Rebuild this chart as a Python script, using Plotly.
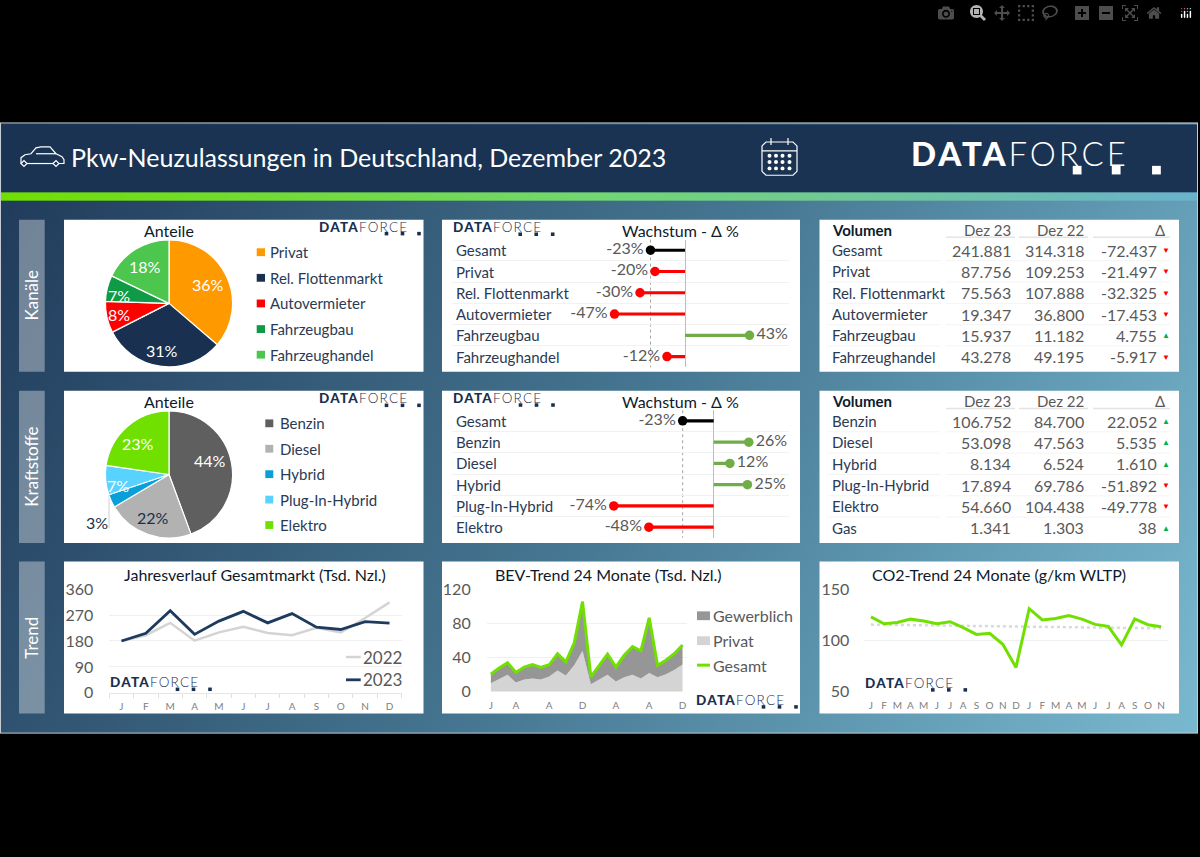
import urllib.parse
import plotly.graph_objects as go

W, H = 1200, 857
FONT = "Lato"
NAVY = "#1a2f4d"
GREY = "#595959"

# --- data ---
channel_labels = ["Privat", "Rel. Flottenmarkt", "Autovermieter", "Fahrzeugbau", "Fahrzeughandel"]
channel_dez23 = [87756, 75563, 19347, 15937, 43278]
channel_colors = ["#ff9900", "#1a3050", "#ff0000", "#0f9a45", "#4cc64c"]
channel_pct = ["36%", "31%", "8%", "7%", "18%"]

fuel_labels = ["Benzin", "Diesel", "Hybrid", "Plug-In-Hybrid", "Elektro"]
fuel_dez23 = [106752, 53098, 8134, 17894, 54660]
fuel_colors = ["#5f5f5f", "#b2b2b2", "#0a9fd8", "#5ad2ff", "#70e000"]
fuel_pct = ["44%", "22%", "3%", "7%", "23%"]

growth1_labels = ["Gesamt"] + channel_labels
growth1_values = [-23, -20, -30, -47, 43, -12]
growth2_labels = ["Gesamt", "Benzin", "Diesel", "Hybrid", "Plug-In-Hybrid", "Elektro"]
growth2_values = [-23, 26, 12, 25, -74, -48]

table1_rows = ["Gesamt"] + channel_labels
table1_d23 = ["241.881", "87.756", "75.563", "19.347", "15.937", "43.278"]
table1_d22 = ["314.318", "109.253", "107.888", "36.800", "11.182", "49.195"]
table1_delta = ["-72.437", "-21.497", "-32.325", "-17.453", "4.755", "-5.917"]

table2_rows = ["Benzin", "Diesel", "Hybrid", "Plug-In-Hybrid", "Elektro", "Gas"]
table2_d23 = ["106.752", "53.098", "8.134", "17.894", "54.660", "1.341"]
table2_d22 = ["84.700", "47.563", "6.524", "69.786", "104.438", "1.303"]
table2_delta = ["22.052", "5.535", "1.610", "-51.892", "-49.778", "38"]

months12 = ["J", "F", "M", "A", "M", "J", "J", "A", "S", "O", "N", "D"]
market_2022 = [180, 200, 243, 181, 210, 229, 208, 200, 226, 210, 260, 314]
market_2023 = [180, 207, 285, 203, 249, 283, 243, 275, 228, 220, 247, 242]

bev_ticks = [0, 3, 7, 11, 15, 19, 23]
bev_ticktext = ["J", "A", "A", "D", "A", "A", "D"]
bev_privat = [10, 15, 20, 11, 14.5, 15.6, 14.5, 18, 25, 19, 31, 48,
              9, 14.5, 20, 12, 17, 20, 15.5, 22, 17, 20.5, 25.5, 32]
bev_gewerblich = [10.6, 13, 14, 11.5, 14.5, 16.4, 14.1, 13.6, 19.6, 16, 26, 57.5,
                  8.5, 16.5, 24, 17, 25.7, 33, 32.5, 64.5, 14, 16.5, 19.1, 22.7]
bev_gesamt = [20.6, 28, 34, 22.5, 29, 32, 28.6, 31.6, 44.6, 35, 57, 105.5,
              17.5, 31, 44, 29, 42.7, 53, 48, 86.5, 31, 37, 44.6, 54.7]

co2_months = ["J", "F", "M", "A", "M", "J", "J", "A", "S", "O", "N", "D",
              "J", "F", "M", "A", "M", "J", "J", "A", "S", "O", "N"]
co2_values = [123, 116.3, 117.6, 120.8, 118.9, 116.3, 118.3, 112.5, 105.9, 107, 96.3, 73.8,
              131, 120, 121.4, 124.3, 120.8, 115.7, 113.8, 95.7, 121, 115.4, 113.5]
co2_trend = [115.5, 111.8]


def fx(x):
    return x / W


def fy(y):
    return 1 - y / H


annotations = []
shapes = []


def label(x, y, text, size=15, color=NAVY, anchor="left", angle=0, weight=None):
    font = dict(family=FONT, size=size, color=color)
    if weight:
        font["weight"] = weight
    annotations.append(dict(xref="paper", yref="paper", x=fx(x), y=fy(y), text=text, showarrow=False,
                            xanchor=anchor, yanchor="middle", font=font, textangle=angle, borderpad=0))


def rect(x0, y0, x1, y1, color):
    shapes.append(dict(type="rect", xref="paper", yref="paper", x0=fx(x0), x1=fx(x1), y0=fy(y0), y1=fy(y1),
                       fillcolor=color, line_width=0, layer="below"))


def line(x0, y0, x1, y1, color, width=1, dash="solid"):
    shapes.append(dict(type="line", xref="paper", yref="paper", x0=fx(x0), x1=fx(x1), y0=fy(y0), y1=fy(y1),
                       line=dict(color=color, width=width, dash=dash), layer="below"))


def icon(points, close=False):
    # stroke-only path in page pixels
    d = "M" + " L".join(f"{fx(x):.5f},{fy(y):.5f}" for x, y in points) + (" Z" if close else "")
    shapes.append(dict(type="path", xref="paper", yref="paper", path=d, line=dict(color="white", width=1.2),
                       layer="above"))


def logo(left, cy, scale=1.0, color=NAVY):
    s = 13.5 * scale
    spacing = 1.2 * scale
    annotations.append(dict(
        xref="paper", yref="paper", x=fx(left), y=fy(cy), xanchor="left", yanchor="middle", showarrow=False,
        borderpad=0, font=dict(family=FONT, size=s, color=color),
        text=f'<span style="letter-spacing:{spacing}px;font-weight:900">DATA</span>'
             f'<span style="letter-spacing:{spacing}px;font-weight:300">FORCE</span>'))
    for off in (68.5, 84.5, 101):
        x = left + off * scale
        y = cy + 7 * scale
        half = 1.8 * scale
        rect(x - half, y - half, x + half, y + half, color if scale == 1 else "white")


# --- background, header and gradient bar ---
svg = f"""<svg xmlns='http://www.w3.org/2000/svg' width='{W}' height='{H}' viewBox='0 0 {W} {H}'>
<defs>
<linearGradient id='b' gradientUnits='userSpaceOnUse' x1='0' y1='115' x2='1200' y2='740'>
<stop offset='0' stop-color='#1f3858'/><stop offset='0.5' stop-color='#44748f'/><stop offset='1' stop-color='#79b9d0'/>
</linearGradient>
<linearGradient id='g' x1='0' x2='1' y1='0' y2='0'>
<stop offset='0' stop-color='#70e000'/><stop offset='0.5' stop-color='#72d772'/><stop offset='1' stop-color='#6bb2cc'/>
</linearGradient>
</defs>
<rect width='{W}' height='{H}' fill='black'/>
<rect x='0.5' y='115.5' width='1197' height='624' fill='url(#b)' stroke='#c4ccd2'/>
<rect x='2' y='117' width='1195' height='70' fill='#1a3352'/>
<rect x='1' y='186.5' width='1196' height='8.5' fill='url(#g)'/>
</svg>"""
images = [dict(source="data:image/svg+xml," + urllib.parse.quote(svg), xref="paper", yref="paper",
               x=0, y=1, sizex=1, sizey=1, sizing="stretch", layer="below", xanchor="left", yanchor="top")]

# cards and side rails
for y0, y1 in [(214.5, 370), (389.5, 545), (564, 719.5)]:
    for x0, x1 in [(64, 423.5), (442, 800), (819.5, 1179)]:
        rect(x0, y0, x1, y1, "white")
    rect(19, y0, 44.7, y1, "rgba(255,255,255,0.36)")
label(32, 292, "Kanäle", 17, "white", "center", -90)
label(32, 467, "Kraftstoffe", 17, "white", "center", -90)
label(32, 642, "Trend", 17, "white", "center", -90)

# header
label(70, 150, "Pkw-Neuzulassungen in Deutschland, Dezember 2023", 25, "white", weight=400)
logo(910, 146.7, 2.44, "white")
icon([(21, 157), (21, 151), (25, 148), (31, 147), (36, 141), (41, 140), (50, 140), (56, 147), (62, 150), (64, 153),
      (64, 157), (59, 157)])
icon([(27, 157), (53, 157)])
icon([(36, 147), (56, 147)])
for cx in (24, 56):
    icon([(cx - 3, 157), (cx, 154), (cx + 3, 157), (cx, 160)], close=True)
icon([(766, 135), (793, 135), (797, 139), (797, 165), (793, 169), (766, 169), (762, 165), (762, 139)], close=True)
icon([(762, 144), (797, 144)])
icon([(771, 131), (771, 138)])
icon([(788, 131), (788, 138)])
for row in (149, 155.5, 162):
    for col in (769.5, 776, 782.5, 789.5):
        shapes.append(dict(type="circle", xref="paper", yref="paper", x0=fx(col - 2), x1=fx(col + 2),
                           y0=fy(row - 2), y1=fy(row + 2), fillcolor="white", line_width=0, layer="above"))

traces = []


# --- pies ---
def add_pie(labels, values, colors, cy):
    traces.append(go.Pie(labels=labels, values=values, sort=False, direction="clockwise", rotation=0,
                         marker=dict(colors=colors, line=dict(color="white", width=1.2)),
                         textinfo="none", showlegend=False, hole=0,
                         domain=dict(x=[fx(169 - 65), fx(169 + 65)], y=[fy(cy + 65), fy(cy - 65)])))


add_pie(channel_labels, channel_dez23, channel_colors, 300)
add_pie(fuel_labels, fuel_dez23, fuel_colors, 475)

label(169, 225, "Anteile", 16, "#0d1a2a", "center")
label(169, 400, "Anteile", 16, "#0d1a2a", "center")

channel_pos = [(208, 280.7), (161.7, 348.3), (119, 311), (119.3, 292.3), (145, 262.7)]
for (x, y), t in zip(channel_pos, channel_pct):
    label(x, y, t, 16, "white", "center")
fuel_pos = [(210, 461), (152.7, 519.3), (96.7, 524), (117.7, 486.7), (138.3, 443.3)]
fuel_txt = ["white", NAVY, NAVY, "white", "white"]
for (x, y), t, c in zip(fuel_pos, fuel_pct, fuel_txt):
    label(x, y, t, 16, c, "center")
line(109, 496, 109, 530, "#d0d0d0")

for i, (name, color) in enumerate(zip(channel_labels, channel_colors)):
    y = 247.7 + i * 26.2
    rect(256.7, y - 4, 265, y + 4, color)
    label(269.3, y, name, 15, "#2a3a55")
for i, (name, color) in enumerate(zip(fuel_labels, fuel_colors)):
    y = 422.7 + i * 26
    rect(265.3, y - 4, 273.3, y + 4, color)
    label(278.7, y, name, 15, "#2a3a55")

logo(318, 221.7)
logo(318, 397.3)

axes = {}


# --- growth lollipops ---
def add_growth(idx, labels, values, zero, scale, top, title_y):
    xname, yname = f"x{idx}", f"y{idx}"
    colors = ["black" if n == "Gesamt" else ("#ff0000" if v < 0 else "#70ad47") for n, v in zip(labels, values)]
    traces.append(go.Bar(x=values, y=labels, orientation="h", width=0.15, marker=dict(color=colors, line_width=0),
                         xaxis=xname, yaxis=yname, showlegend=False))
    traces.append(go.Scatter(x=values, y=labels, mode="markers+text", xaxis=xname, yaxis=yname, showlegend=False,
                             marker=dict(size=9.5, color=colors), text=[f"{v}%" for v in values],
                             textposition=["middle left" if v < 0 else "middle right" for v in values],
                             textfont=dict(family=FONT, size=16, color=GREY)))
    left, right = 452, 789
    bottom = top + 21.75 * 6
    axes[f"xaxis{idx}"] = dict(domain=[fx(left), fx(right)], range=[(left - zero) / scale, (right - zero) / scale],
                               anchor=yname, showgrid=False, showticklabels=False, ticks="", zeroline=True,
                               zerolinecolor="#bdbdbd", zerolinewidth=1)
    axes[f"yaxis{idx}"] = dict(domain=[fy(bottom), fy(top)], anchor=xname, type="category",
                               categoryorder="array", categoryarray=labels, range=[5.5, -0.5],
                               tickson="boundaries", showticklabels=False, ticks="", showgrid=True,
                               gridcolor="#f2f2f2", gridwidth=1, zeroline=False, showline=False)
    total = zero + values[0] * scale
    line(total, top, total, bottom, "#a6a6a6", 1, "dot")
    for i, name in enumerate(labels):
        label(455, top + 10.9 + i * 21.75, name, 15, "#2a3a55")
    label(680.7, title_y, "Wachstum - Δ %", 16, "#0d1a2a", "center")


add_growth(1, growth1_labels, growth1_values, 685, 1.5, 234.8, 225)
add_growth(2, growth2_labels, growth2_values, 713.7, 1.35, 409.3, 400)
logo(451.7, 222.3)
logo(452, 397)


# --- tables ---
def add_table(rows, d23, d22, delta, head_y):
    label(831, head_y, "<b>Volumen</b>", 15, "#0d1a2a")
    label(1011.7, head_y, "Dez 23", 15, GREY, "right")
    label(1085, head_y, "Dez 22", 15, GREY, "right")
    label(1166, head_y, "Δ", 15, GREY, "right")
    for x0, x1 in [(946, 1015), (1019, 1088), (1093, 1170)]:
        line(x0, head_y + 7.5, x1, head_y + 7.5, "#e4e4e4", 1.5)
    for i in range(6):
        y = head_y + 20.5 + i * 21.8
        label(831, y, rows[i], 15, "#2a3a55")
        label(1011.7, y, d23[i], 16, GREY, "right")
        label(1085, y, d22[i], 16, GREY, "right")
        label(1158, y, delta[i], 16, GREY, "right")
        down = delta[i].startswith("-")
        label(1165.7, y, "▼" if down else "▲", 8, "#ff0000" if down else "#00b050", "center")
        if i < 5:
            for x0, x1 in [(828, 941), (946, 1170)]:
                line(x0, y + 10.9, x1, y + 10.9, "#f4f4f4")


add_table(table1_rows, table1_d23, table1_d22, table1_delta, 225)
add_table(table2_rows, table2_d23, table2_d22, table2_delta, 400)

# --- trends ---
tick_font = dict(family=FONT, size=16, color=GREY)
month_font = dict(family=FONT, size=10, color="#808080")

# market by month
x12 = list(range(12))
traces.append(go.Scatter(x=x12, y=market_2022, mode="lines", line=dict(color="#d4d4d4", width=2.5),
                         xaxis="x3", yaxis="y3", showlegend=False))
traces.append(go.Scatter(x=x12, y=market_2023, mode="lines", line=dict(color="#1f3a5f", width=2.8),
                         xaxis="x3", yaxis="y3", showlegend=False))
axes["xaxis3"] = dict(domain=[fx(109.3), fx(401.7)], range=[-0.5, 11.5], anchor="y3", tickvals=x12,
                      ticktext=months12, tickfont=month_font, ticks="", showgrid=False, zeroline=False,
                      showline=True, linecolor="#e6e6e6", ticklabelstandoff=4,
                      minor=dict(tickvals=[i - 0.5 for i in range(13)], ticks="outside", ticklen=4,
                                 tickcolor="#e0e0e0", showgrid=False))
axes["yaxis3"] = dict(domain=[fy(698.3), fy(592.3)], range=[0, 360], anchor="x3", tickvals=[0, 90, 180, 270, 360],
                      tickfont=tick_font, ticks="", gridcolor="#f0f0f0", zeroline=False, ticklabelstandoff=15)
label(255, 577.3, "Jahresverlauf Gesamtmarkt (Tsd. Nzl.)", 16, "#0d1a2a", "center")
line(346, 661.7, 360.7, 661.7, "#d4d4d4", 2.5)
line(346, 685, 360.7, 685, "#1f3a5f", 2.8)
label(362, 661.7, "2022", 17, GREY)
label(362, 685, "2023", 17, GREY)
logo(109, 687.7)

# BEV
x24 = list(range(24))
traces.append(go.Scatter(x=x24, y=bev_privat, stackgroup="bev", mode="none", fillcolor="#d4d4d4", name="Privat",
                         xaxis="x4", yaxis="y4", showlegend=False))
traces.append(go.Scatter(x=x24, y=bev_gewerblich, stackgroup="bev", mode="none", fillcolor="#969696",
                         name="Gewerblich", xaxis="x4", yaxis="y4", showlegend=False))
traces.append(go.Scatter(x=x24, y=bev_gesamt, mode="lines", line=dict(color="#70e000", width=3), name="Gesamt",
                         xaxis="x4", yaxis="y4", showlegend=False))
axes["xaxis4"] = dict(domain=[fx(486.7), fx(686.7)], range=[-0.5, 23.5], anchor="y4", tickvals=bev_ticks,
                      ticktext=bev_ticktext, tickfont=month_font, ticks="", showgrid=False, zeroline=False,
                      ticklabelstandoff=6)
axes["yaxis4"] = dict(domain=[fy(697.3), fy(592.3)], range=[0, 120], anchor="x4", tickvals=[0, 40, 80, 120],
                      tickfont=tick_font, ticks="", gridcolor="#f0f0f0", zeroline=False, ticklabelstandoff=15)
label(609, 577.3, "BEV-Trend 24 Monate (Tsd. Nzl.)", 16, "#0d1a2a", "center")
rect(697, 615, 710, 624, "#969696")
rect(697, 640.5, 710, 649.5, "#d4d4d4")
line(697, 670, 710, 670, "#70e000", 3)
label(711.7, 619.3, "Gewerblich", 16, GREY)
label(711.7, 645, "Privat", 16, GREY)
label(711.7, 670, "Gesamt", 16, GREY)
logo(695, 705.7)

# CO2
x23 = list(range(23))
traces.append(go.Scatter(x=[x23[0], x23[-1]], y=co2_trend, mode="lines", xaxis="x5", yaxis="y5", showlegend=False,
                         line=dict(color="#d9d9d9", width=2.5, dash="dot")))
traces.append(go.Scatter(x=x23, y=co2_values, mode="lines", line=dict(color="#70e000", width=3),
                         xaxis="x5", yaxis="y5", showlegend=False))
axes["xaxis5"] = dict(domain=[fx(864.3), fx(1167.7)], range=[-0.5, 22.5], anchor="y5", tickvals=x23,
                      ticktext=co2_months, tickfont=month_font, ticks="", showgrid=False, zeroline=False,
                      ticklabelstandoff=6)
axes["yaxis5"] = dict(domain=[fy(697.3), fy(592.3)], range=[50, 150], anchor="x5", tickvals=[50, 100, 150],
                      tickfont=tick_font, ticks="", gridcolor="#f0f0f0", zeroline=False, ticklabelstandoff=14)
label(999, 577.3, "CO2-Trend 24 Monate (g/km WLTP)", 16, "#0d1a2a", "center")
logo(864.3, 688.3)

fig = go.Figure(traces)
fig.update_layout(width=W, height=H, margin=dict(l=0, r=0, t=0, b=0, pad=0), paper_bgcolor="black",
                  plot_bgcolor="rgba(0,0,0,0)", barmode="overlay", font=dict(family=FONT),
                  annotations=annotations, shapes=shapes, images=images, hovermode=False, **axes)

fig.write_html("out.html", post_script="document.body.style.margin='0';document.body.style.background='black';")
